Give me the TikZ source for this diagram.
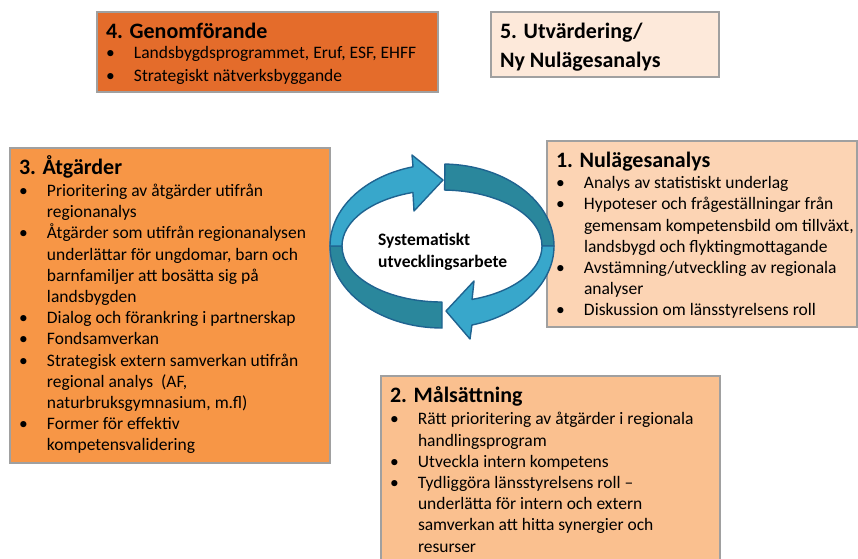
\documentclass[tikz,border=0pt]{standalone}
\usepackage{fontspec}
\setmainfont{Carlito}

\definecolor{genomfor}{HTML}{E46C2B}
\definecolor{atgard}{HTML}{F79646}
\definecolor{nulage}{HTML}{FCD4B4}
\definecolor{malsatt}{HTML}{FAC08F}
\definecolor{utvard}{HTML}{FDE9DA}
\definecolor{ringlight}{HTML}{38A7CB}
\definecolor{ringdark}{HTML}{2A879C}
\definecolor{ringline}{HTML}{1F6390}
\definecolor{boxline}{HTML}{A0A0A0}

\newcommand{\boxhead}[1]{\hbox{}{\fontsize{22}{26}\selectfont\bfseries\noindent #1\par}}
\newcommand{\bodyfont}{\fontsize{17.5}{21.2}\selectfont}
\newcommand{\bul}{\par\leftskip=28pt\noindent\llap{\makebox[28pt][l]{\textbullet}}}

\tikzset{
  infobox/.style={draw=boxline, line width=1.2pt, inner xsep=9pt, inner ysep=0pt, outer sep=0pt, anchor=north west},
  lightband/.style={fill=ringlight, draw=ringline, line width=1.4pt, line join=round},
  darkband/.style={fill=ringdark, draw=ringline, line width=1.4pt, line join=round}
}

\begin{document}
\begin{tikzpicture}[x=1pt, y=-1pt]
\useasboundingbox (0,0) rectangle (858,558);

% boxes
\node [infobox, fill=genomfor] (genomforande) at (97,12) {\parbox[t][80pt][t]{323pt}{\raggedright
  \boxhead{4. Genomförande}\fontsize{17.5}{23.4}\selectfont\vspace{-3.4pt}
  \bul Landsbygdsprogrammet, Eruf, ESF, EHFF
  \bul Strategiskt nätverksbyggande\par}};

\node [infobox, fill=utvard] (utvardering) at (491,12) {\parbox[t][65pt][t]{210pt}{\raggedright
  \hbox{}{\fontsize{22}{26.7}\selectfont\bfseries\noindent 5. Utvärdering/\par
  \fontsize{22}{28.3}\selectfont\noindent Ny Nulägesanalys\par}}};

\node [infobox, fill=atgard] (atgarder) at (10,148) {\parbox[t][315pt][t]{302pt}{\raggedright
  \boxhead{3. Åtgärder}\bodyfont\vspace{1.3pt}
  \bul Prioritering av åtgärder utifrån\\ regionanalys
  \bul Åtgärder som utifrån regionanalysen\\ underlättar för ungdomar, barn och\\ barnfamiljer att bosätta sig på\\ landsbygden
  \bul Dialog och förankring i partnerskap
  \bul Fondsamverkan
  \bul Strategisk extern samverkan utifrån\\ regional analys~~(AF,\\ naturbruksgymnasium, m.fl)
  \bul Former för effektiv\\ kompetensvalidering\par}};

\node [infobox, fill=nulage] (nulagesanalys) at (547,141) {\parbox[t][186pt][t]{292pt}{\raggedright
  \boxhead{1. Nulägesanalys}\bodyfont\vspace{0.4pt}
  \bul Analys av statistiskt underlag
  \bul Hypoteser och frågeställningar från\\ \mbox{gemensam kompetensbild om tillväxt,}\\ landsbygd och flyktingmottagande
  \bul Avstämning/utveckling av regionala\\ analyser
  \bul Diskussion om länsstyrelsens roll\par}};

\node [infobox, fill=malsatt] (malsattning) at (381,376) {\parbox[t][195pt][t]{321pt}{\raggedright
  \boxhead{2. Målsättning}\bodyfont\vspace{1.6pt}
  \bul Rätt prioritering av åtgärder i regionala\\ handlingsprogram
  \bul Utveckla intern kompetens
  \bul Tydliggöra länsstyrelsens roll –\\ underlätta för intern och extern\\ samverkan att hitta synergier och\\ resurser\par}};

% ring of arrows
\coordinate (ringc) at (442,246);
\filldraw [darkband] ([shift={(271.5:112 and 82)}]ringc) arc[start angle=271.5, end angle=360, x radius=112, y radius=82]
  -- ([shift={(0:100 and 56)}]ringc) arc[start angle=360, end angle=271.5, x radius=100, y radius=56] -- cycle;
\filldraw [darkband] ([shift={(90:112 and 82)}]ringc) arc[start angle=90, end angle=180, x radius=112, y radius=82]
  -- ([shift={(180:100 and 56)}]ringc) arc[start angle=180, end angle=90, x radius=100, y radius=56] -- cycle;
\coordinate (headA1) at (412,155);
\coordinate (tipA) at (443,180);
\coordinate (headA2) at (414,211);
\filldraw [lightband] ([shift={(180:112 and 82)}]ringc) arc[start angle=180, end angle=255, x radius=112, y radius=82]
  -- (headA1) -- (tipA) -- (headA2)
  -- ([shift={(253.1:100 and 56)}]ringc) arc[start angle=253.1, end angle=180, x radius=100, y radius=56] -- cycle;
\coordinate (headB1) at (470,339);
\coordinate (tipB) at (446,311);
\coordinate (headB2) at (474,281);
\filldraw [lightband] ([shift={(0:112 and 82)}]ringc) arc[start angle=0, end angle=74.5, x radius=112, y radius=82]
  -- (headB1) -- (tipB) -- (headB2)
  -- ([shift={(72.5:100 and 56)}]ringc) arc[start angle=72.5, end angle=0, x radius=100, y radius=56] -- cycle;

\node [font=\fontsize{17.5}{21.5}\selectfont\bfseries, align=left, anchor=west, inner sep=0pt] (kretslabel) at (378,252) {Systematiskt\\utvecklingsarbete};
\end{tikzpicture}
\end{document}
